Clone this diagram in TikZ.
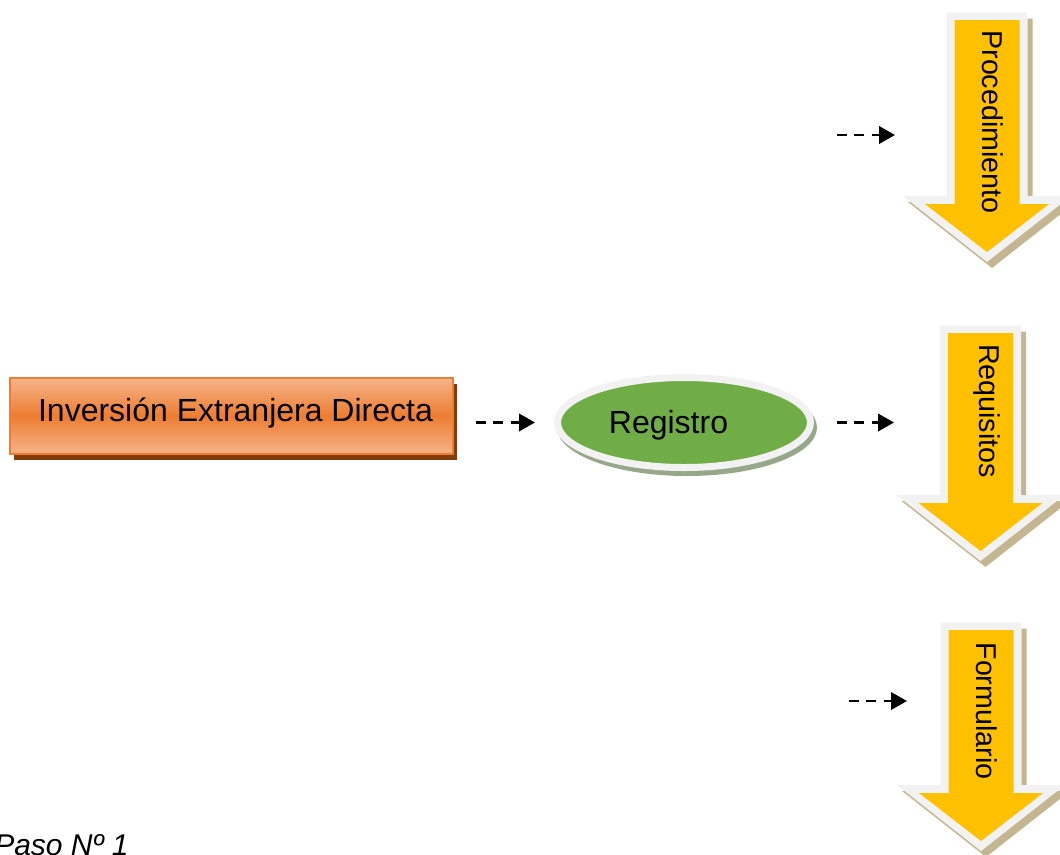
\documentclass[tikz,border=0pt]{standalone}
\usepackage{fontspec}
\setmainfont{Liberation Sans}
\usetikzlibrary{arrows.meta,shapes.geometric,calc}

\definecolor{naranja}{HTML}{ED7D31}
\definecolor{naranjaclaro}{HTML}{F5B48A}
\definecolor{marron}{HTML}{843C0C}
\definecolor{verde}{HTML}{70AD47}
\definecolor{verdesombra}{HTML}{97A88A}
\definecolor{amarillo}{HTML}{FFC000}
\definecolor{borde}{HTML}{F2F2F2}
\definecolor{tostado}{HTML}{C4B690}

\begin{document}
\begin{tikzpicture}[x=0.75pt,y=-0.75pt,
    flecha/.style={dash pattern=on 7.5pt off 5.5pt,line width=2pt,-{Triangle[length=12pt,width=13pt]}},
    texto/.style={font=\fontsize{24}{28}\selectfont},
    vertical/.style={font=\fontsize{21.5}{25}\selectfont,rotate=-90}]
        \useasboundingbox (0,0) rectangle (1060,854);

        % caja naranja
        \fill[marron] (14,384) rectangle (457,460);
        \node[draw=naranja,line width=1.5pt,top color=naranjaclaro,bottom color=naranjaclaro,middle color=naranja,
              minimum width=332.25pt,minimum height=57pt,inner sep=0pt,outer sep=0pt] (ied) at (231.5,416) {};
        \node[texto,anchor=base] (iedtxt) at (235.5,421.5) {Inversión Extranjera Directa};

        % elipse
        \fill[verdesombra] (687,427.5) ellipse [x radius=130,y radius=48.5];
        \node[ellipse,draw=borde,line width=5.25pt,fill=verde,minimum width=189.75pt,minimum height=67.5pt,
              inner sep=0pt,outer sep=0pt] (reg) at (684,422.5) {};
        \node[texto,anchor=base] (regtxt) at (668.5,433) {Registro};

        % flechas de bloque
        \foreach \nom/\cx/\ty/\L/\yt/\txt in {proc/987/20/184/122/Procedimiento,
                                             req/980.5/333/170/411/Requisitos,
                                             form/981/630/163/711/Formulario} {
            \fill[tostado,shift={(5,6)}] (\cx-40.5,\ty-7.5) -- (\cx+40.5,\ty-7.5) -- (\cx+40.5,\ty+\L-8)
                -- (\cx+84,\ty+\L-8) -- (\cx,\ty+\L+58) -- (\cx-84,\ty+\L-8) -- (\cx-40.5,\ty+\L-8) -- cycle;
            \fill[borde] (\cx-40.5,\ty-7.5) -- (\cx+40.5,\ty-7.5) -- (\cx+40.5,\ty+\L-8)
                -- (\cx+84,\ty+\L-8) -- (\cx,\ty+\L+58) -- (\cx-84,\ty+\L-8) -- (\cx-40.5,\ty+\L-8) -- cycle;
            \fill[amarillo] (\cx-32.5,\ty) -- (\cx+32.5,\ty) -- (\cx+32.5,\ty+\L)
                -- (\cx+62,\ty+\L) -- (\cx,\ty+\L+48) -- (\cx-62,\ty+\L) -- (\cx-32.5,\ty+\L) -- cycle;
            \node[vertical] (\nom) at (\cx+6,\yt) {\txt};
        }

        \coordinate (proc-de) at (837,135);
        \coordinate (proc-a) at (895,135);
        \coordinate (req-a) at (894,422.5);
        \coordinate (form-de) at (849,701);
        \coordinate (form-a) at (907,701);

        \draw[flecha] ($(ied.east |- reg.center)+(23,0)$) -- ($(reg.west)+(-22.5,0)$);
        \draw[flecha] ($(reg.east)+(26.5,0)$) -- (req-a);
        \draw[flecha] (proc-de) -- (proc-a);
        \draw[flecha] (form-de) -- (form-a);

        \node[font=\fontsize{22.5}{26}\selectfont\itshape,anchor=base west,inner sep=0pt] (paso) at (-6,855) {Paso Nº 1};
\end{tikzpicture}
\end{document}
